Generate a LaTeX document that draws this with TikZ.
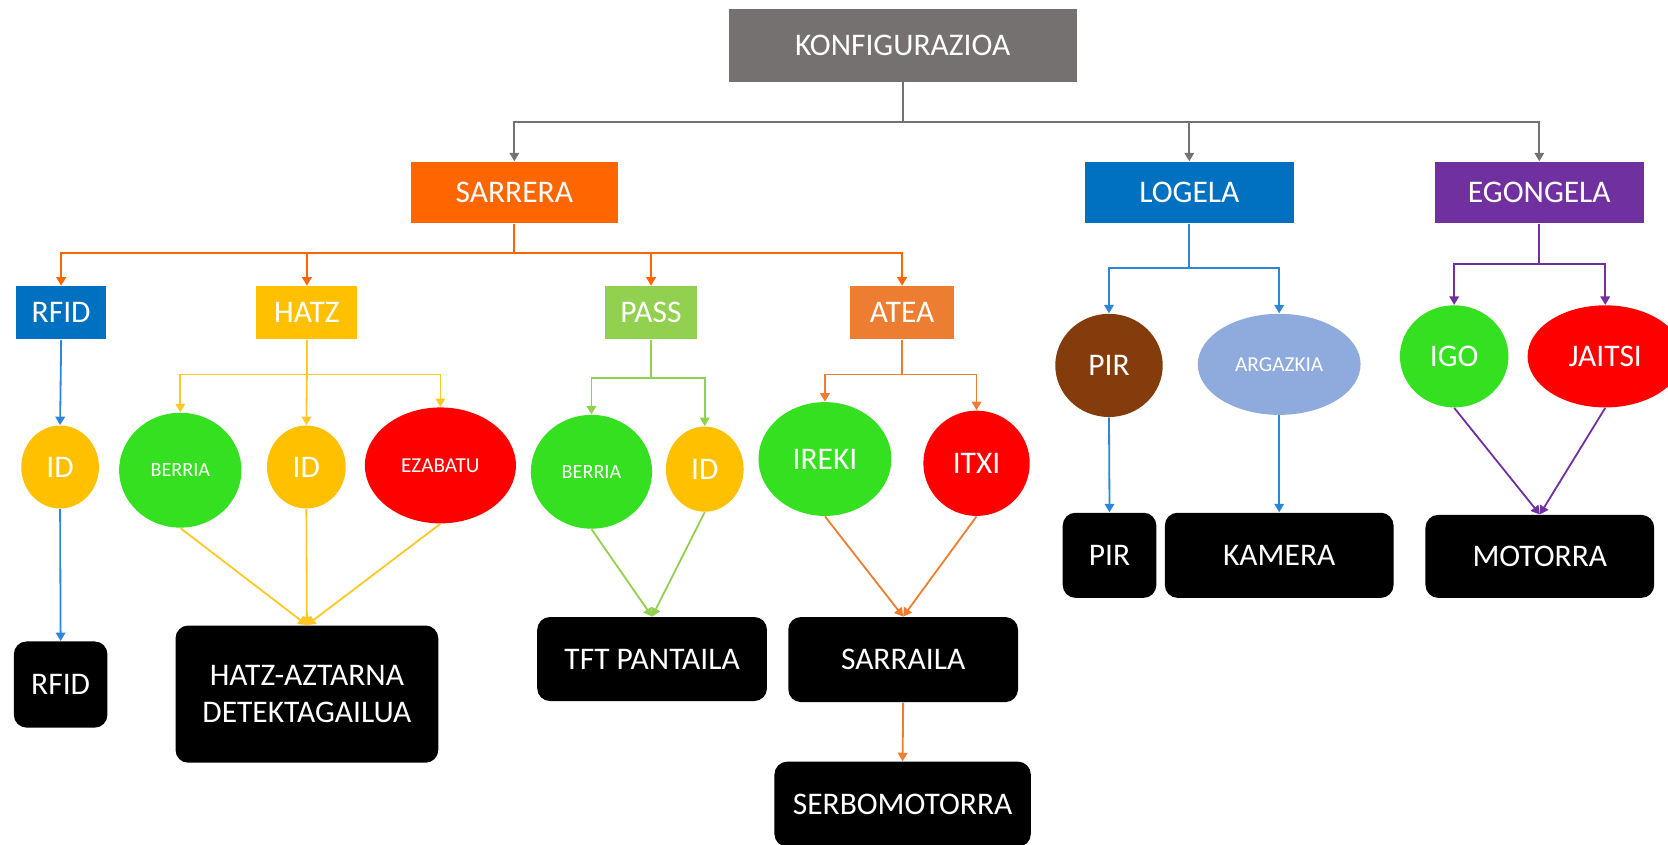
\documentclass[tikz,border=0pt]{standalone}
\usepackage{fontspec}
\setmainfont{Carlito}
\usetikzlibrary{shapes.geometric,arrows.meta}

\definecolor{cgray}{HTML}{767171}
\definecolor{corange}{HTML}{FF6600}
\definecolor{cblue}{HTML}{0070C0}
\definecolor{cline}{HTML}{2E86D8}
\definecolor{cpurple}{HTML}{7030A0}
\definecolor{camber}{HTML}{FFC000}
\definecolor{camberline}{HTML}{FFC825}
\definecolor{clime}{HTML}{92D050}
\definecolor{cdoor}{HTML}{ED7D31}
\definecolor{cgreen}{HTML}{34E01F}
\definecolor{cred}{HTML}{FF0000}
\definecolor{cbrown}{HTML}{843C0C}
\definecolor{csky}{HTML}{8FAADC}

\tikzset{
  lbl/.style={text=white, font=\fontsize{14.8}{17.5}\selectfont, inner sep=0pt, align=center},
  small/.style={font=\fontsize{9.5}{11}\selectfont},
  smallish/.style={font=\fontsize{10}{12}\selectfont},
  cat/.style={lbl, rectangle},
  oval/.style={lbl, ellipse},
  dev/.style={lbl, rectangle, rounded corners=6pt, fill=black},
  link/.style={line width=0.85pt},
  wire/.style={link, -{Triangle[width=4.5pt,length=4pt]}},
}

\begin{document}
\begin{tikzpicture}[x=0.5pt,y=-0.5pt]
\useasboundingbox (0,0) rectangle (1568,794);
\clip (0,0) rectangle (1568,794);

% top level
\node[cat, fill=cgray, minimum width=163.5pt, minimum height=34.5pt] (konf) at (848.5,42.5) {KONFIGURAZIOA};
\node[cat, fill=corange, minimum width=97.5pt, minimum height=29pt] (sarrera) at (483.5,181) {SARRERA};
\node[cat, fill=cblue, minimum width=98pt, minimum height=29pt] (logela) at (1118,181) {LOGELA};
\node[cat, fill=cpurple, minimum width=98pt, minimum height=29pt] (egon) at (1447,181) {EGONGELA};

% SARRERA children
\node[cat, fill=cblue, minimum width=42.5pt, minimum height=25pt] (rfid) at (57.5,294) {RFID};
\node[cat, fill=camber, minimum width=47.5pt, minimum height=25pt] (hatz) at (288.5,294) {HATZ};
\node[cat, fill=clime, minimum width=43pt, minimum height=25pt] (pass) at (612,294) {PASS};
\node[cat, fill=cdoor, minimum width=49pt, minimum height=25pt] (atea) at (848,294) {ATEA};

% actions
\node[oval, fill=camber, minimum width=36.5pt, minimum height=39pt] (idA) at (56.5,439) {ID};
\node[oval, small, fill=cgreen, minimum width=57.5pt, minimum height=54pt] (berriaA) at (169.5,442) {BERRIA};
\node[oval, fill=camber, minimum width=37pt, minimum height=39pt] (idB) at (288,439) {ID};
\node[oval, smallish, fill=cred, minimum width=71pt, minimum height=54.5pt] (ezabatu) at (414,437.5) {EZABATU};
\node[oval, small, fill=cgreen, minimum width=57pt, minimum height=53.5pt] (berriaB) at (556,443.5) {BERRIA};
\node[oval, fill=camber, minimum width=36.5pt, minimum height=40pt] (idC) at (662.5,441) {ID};
\node[oval, fill=cgreen, minimum width=62.5pt, minimum height=53.5pt] (ireki) at (775.5,431.5) {IREKI};
\node[oval, fill=cred, minimum width=50pt, minimum height=49.5pt] (itxi) at (918,435.5) {ITXI};
\node[oval, fill=cbrown, minimum width=50.5pt, minimum height=48.5pt] (pirA) at (1042.5,343.5) {PIR};
\node[oval, smallish, fill=csky, minimum width=76.5pt, minimum height=47.5pt] (argazkia) at (1202.5,342.5) {ARGAZKIA};
\node[oval, fill=cgreen, minimum width=51pt, minimum height=48pt] (igo) at (1367,335) {IGO};
\node[oval, fill=cred, minimum width=73pt, minimum height=48pt] (jaitsi) at (1509,335) {JAITSI};

% devices
\node[dev, minimum width=44pt, minimum height=40.5pt] (rfidB) at (57,643.5) {RFID};
\node[dev, minimum width=123.5pt, minimum height=64.5pt] (hatzB) at (288.5,652.5) {HATZ-AZTARNA\\DETEKTAGAILUA};
\node[dev, minimum width=108pt, minimum height=39.5pt] (tft) at (613,619.5) {TFT PANTAILA};
\node[dev, minimum width=108pt, minimum height=40pt] (sarraila) at (849,620) {SARRAILA};
\node[dev, minimum width=120.5pt, minimum height=40pt] (serbo) at (848.5,756) {SERBOMOTORRA};
\node[dev, minimum width=44pt, minimum height=40pt] (pirB) at (1043,522) {PIR};
\node[dev, minimum width=107.5pt, minimum height=40pt] (kamera) at (1202.5,522) {KAMERA};
\node[dev, minimum width=107.5pt, minimum height=39pt] (motorra) at (1447.5,523) {MOTORRA};

% junction points of the tree branches
\coordinate (jk) at (848.5,115);
\coordinate (js) at (483.5,238);
\coordinate (jh) at (288.5,352);
\coordinate (jp) at (612,355);
\coordinate (ja) at (848,352);
\coordinate (jl) at (1118,252);
\coordinate (je) at (1447,248);

% KONFIGURAZIOA
\draw[link, cgray] (konf.south) -- (jk);
\draw[wire, cgray] (jk) -| (sarrera.north);
\draw[wire, cgray] (jk) -| (logela.north);
\draw[wire, cgray] (jk) -| (egon.north);

% SARRERA
\draw[link, corange] (sarrera.south) -- (js);
\draw[wire, corange] (js) -| (rfid.north);
\draw[wire, corange] (js) -| (hatz.north);
\draw[wire, corange] (js) -| (pass.north);
\draw[wire, corange] (js) -| (atea.north);

% RFID
\draw[wire, cline] (rfid.south) -- (idA.north);
\draw[wire, cline] (idA.south) -- (rfidB.north);

% HATZ
\draw[link, camberline] (hatz.south) -- (jh);
\draw[wire, camberline] (jh) -| (berriaA.north);
\draw[wire, camberline] (jh) -- (idB.north);
\draw[wire, camberline] (jh) -| (ezabatu.north);
\draw[wire, camberline] (berriaA.south) -- (hatzB.north);
\draw[wire, camberline] (idB.south) -- (hatzB.north);
\draw[wire, camberline] (ezabatu.south) -- (hatzB.north);

% PASS
\draw[link, clime] (pass.south) -- (jp);
\draw[wire, clime] (jp) -| (berriaB.north);
\draw[wire, clime] (jp) -| (idC.north);
\draw[wire, clime] (berriaB.south) -- (tft.north);
\draw[wire, clime] (idC.south) -- (tft.north);

% ATEA
\draw[link, cdoor] (atea.south) -- (ja);
\draw[wire, cdoor] (ja) -| (ireki.north);
\draw[wire, cdoor] (ja) -| (itxi.north);
\draw[wire, cdoor] (ireki.south) -- (sarraila.north);
\draw[wire, cdoor] (itxi.south) -- (sarraila.north);
\draw[wire, cdoor] (sarraila.south) -- (serbo.north);

% LOGELA
\draw[link, cline] (logela.south) -- (jl);
\draw[wire, cline] (jl) -| (pirA.north);
\draw[wire, cline] (jl) -| (argazkia.north);
\draw[wire, cline] (pirA.south) -- (pirB.north);
\draw[wire, cline] (argazkia.south) -- (kamera.north);

% EGONGELA
\draw[link, cpurple] (egon.south) -- (je);
\draw[wire, cpurple] (je) -| (igo.north);
\draw[wire, cpurple] (je) -| (jaitsi.north);
\draw[wire, cpurple] (igo.south) -- (motorra.north);
\draw[wire, cpurple] (jaitsi.south) -- (motorra.north);
\end{tikzpicture}
\end{document}
